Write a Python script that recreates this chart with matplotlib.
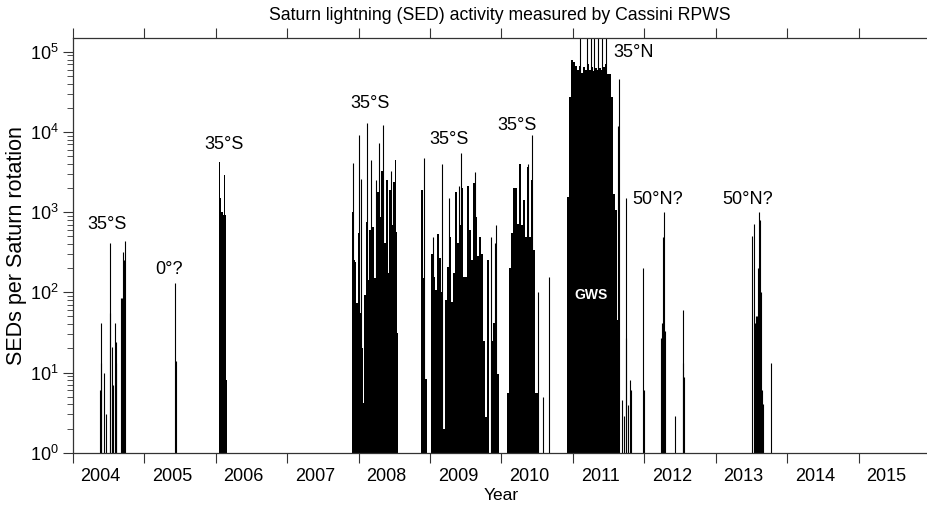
import numpy as np
import matplotlib
matplotlib.use("Agg")
import matplotlib.pyplot as plt
from matplotlib.ticker import FixedLocator, NullFormatter, LogLocator, FixedFormatter

plt.rcParams['font.family'] = ['Liberation Sans', 'DejaVu Sans']
plt.rcParams['mathtext.default'] = 'regular'

# ---------------- data ----------------
# dense storm episodes: start (year), column width (year), values per column
ep2006_start, ep2006_step = 2006.050, 0.014
ep2006_vals = [4200, 1500, 1000, 1000, 920, 2900, 920, 8]

ep2008_start, ep2008_step = 2007.905, 0.014
ep2008_vals = [1000, 28, 250, 240, 73, 73, 550, 55, 55, 60, 20, 4.2, 93, 93, 760, 760,
               142, 600, 600, 660, 660, 660, 150, 150, 1800, 1800, 1800, 880, 880, 3300,
               3300, 3300, 410, 410, 2500, 2500, 175, 1900, 1900, 690, 690, 2400, 2400,
               4500, 570, 31]

ep2009_start, ep2009_step = 2008.875, 0.028
ep2009_vals = [1900, 150, 8.4, 0, 0, 300, 157, 107, 540, 265, 100, 2, 80, 207, 490, 76,
               172, 1800, 410, 690, 2000, 157, 157, 2100, 600, 250, 2300, 870, 280, 490,
               300, 25, 2.8, 250, 0, 25, 41, 207, 9.7]

ep2010_start, ep2010_step = 2010.083, 0.028
ep2010_vals = [5.5, 200, 545, 2000, 2000, 720, 4000, 700, 1400, 490, 3700, 490, 2500,
               340, 5.5, 5.5]

gws_start, gws_step = 2010.914, 0.028
gws_vals = [1560, 27000, 80000, 75000, 66000, 60000, 66000, 55000, 65000, 60000, 70000,
            60000, 65000, 58000, 62000, 60000, 62000, 60000, 65000, 70000, 53000, 53000,
            27000, 1700, 1050, 45]

# individual spikes (year, SEDs per rotation)
spike_years = [2004.378, 2004.392, 2004.398, 2004.442, 2004.462, 2004.518, 2004.522,
               2004.546, 2004.568, 2004.588, 2004.600, 2004.606, 2004.676, 2004.690,
               2004.704, 2004.714, 2004.722, 2004.732,
               2005.432, 2005.446,
               2007.919, 2008.003, 2008.031, 2008.123, 2008.175, 2008.245, 2008.291,
               2008.347, 2008.451,
               2008.913, 2009.038, 2009.165, 2009.262, 2009.402, 2009.430, 2009.635,
               2009.859, 2009.915, 2009.924,
               2010.368, 2010.424, 2010.508, 2010.578, 2010.670,
               2011.100, 2011.202, 2011.250, 2011.300, 2011.356, 2011.404, 2011.464,
               2011.628, 2011.632, 2011.650, 2011.688, 2011.716, 2011.744, 2011.744,
               2011.772, 2011.793, 2011.810, 2011.986, 2011.996,
               2012.234, 2012.248, 2012.262, 2012.276, 2012.285, 2012.425, 2012.537,
               2012.545, 2012.560,
               2013.512, 2013.540, 2013.545, 2013.559, 2013.573, 2013.591, 2013.605,
               2013.619, 2013.633, 2013.647, 2013.665, 2013.777]
spike_vals = [6, 13, 41, 10, 3, 55, 415,
              21, 7, 42, 13, 24, 84, 84,
              320, 250, 84, 440,
              130, 14,
              4100, 9100, 2600, 12800, 4500, 2500, 7300,
              12200, 3300,
              4700, 490, 4000, 1500, 2100, 5500, 3200,
              490, 410, 690,
              4000, 9100, 100, 5, 156,
              160000, 160000, 160000, 160000, 160000, 160000, 160000,
              12000, 45, 46000, 4.6, 2.9, 1490, 27,
              3.9, 8, 6, 200, 6,
              27, 41, 490, 1000, 33, 2.9, 60,
              13, 8.8,
              500, 710, 41, 50, 50, 200, 1000,
              810, 100, 6, 4.1, 13]

# latitude annotations: (year, value, text)
lab_years = [2004.476, 2005.348, 2006.113, 2008.165, 2009.271, 2010.225, 2012.192, 2013.442]
lab_vals = [710, 195, 7060, 22900, 8100, 12200, 1456, 1456]
lab_texts = ['35°S', '0°?', '35°S', '35°S', '35°S', '35°S', '50°N?', '50°N?']
n35_year, n35_val, n35_text = 2011.856, 98500, '35°N'
gws_year, gws_val, gws_text = 2011.258, 92.5, 'GWS'

year_ticks = list(range(2004, 2017))
year_labels = [str(y) for y in range(2004, 2016)]

# ---------------- figure ----------------
W, H = 927, 505
fig = plt.figure(figsize=(W / 100, H / 100), dpi=100)
left = 72.7 / W
bottom = 1 - 452.7 / H
top = 1 - 37.7 / H
width = 12 * 71.45 / W
ax = fig.add_axes([left, bottom, width, top - bottom])

for start, step, vals in [(ep2006_start, ep2006_step, ep2006_vals),
                          (ep2008_start, ep2008_step, ep2008_vals),
                          (ep2009_start, ep2009_step, ep2009_vals),
                          (ep2010_start, ep2010_step, ep2010_vals),
                          (gws_start, gws_step, gws_vals)]:
    v = np.array(vals, dtype=float)
    x = start + step * np.arange(len(v))
    m = v > 0
    ax.bar(x[m], v[m] - 0.1, bottom=0.1, width=step, align='edge', color='black',
           linewidth=0)

ax.vlines(spike_years, 0.1, spike_vals, colors='black', linewidth=0.8)

ax.set_yscale('log')
ax.set_ylim(1, 1.5e5)
ax.set_xlim(2004, 2016)

# ticks
ax.xaxis.set_major_locator(FixedLocator(year_ticks))
ax.xaxis.set_major_formatter(NullFormatter())
ax.xaxis.set_minor_locator(FixedLocator([y + 0.39 for y in range(2004, 2016)]))
ax.xaxis.set_minor_formatter(FixedFormatter(year_labels))
ax.tick_params(axis='x', which='major', direction='out', length=7, width=0.8,
               top=True, bottom=True, color='#333333')
ax.tick_params(axis='x', which='minor', length=0, labelsize=13, pad=11)
ax.yaxis.set_major_locator(LogLocator(base=10, numticks=10))
ax.yaxis.set_minor_locator(LogLocator(base=10, subs=np.arange(2, 10), numticks=20))
ax.tick_params(axis='y', which='major', direction='out', length=7, width=0.8,
               labelsize=13, pad=3, color='#333333')
ax.tick_params(axis='y', which='minor', direction='out', length=4, width=0.6,
               color='#333333')

for s in ['left', 'bottom', 'top']:
    ax.spines[s].set_linewidth(0.9)
    ax.spines[s].set_color('#333333')
ax.spines['right'].set_visible(False)

ax.set_xlabel('Year', fontsize=12.5, labelpad=2)
ax.set_ylabel('SEDs per Saturn rotation', fontsize=15.5, labelpad=2)
fig.text((72.7 + 927) / 2 / W, 1 - 15 / H, 'Saturn lightning (SED) activity measured by Cassini RPWS',
         ha='center', va='center', fontsize=12.7)

for xy, vy, t in zip(lab_years, lab_vals, lab_texts):
    ax.text(xy, vy, t, ha='center', va='center', fontsize=13)
ax.text(n35_year, n35_val, n35_text, ha='center', va='center', fontsize=13)
ax.text(gws_year, gws_val, gws_text, ha='center', va='center', fontsize=10,
        color='white', fontweight='bold')

fig.savefig('out.png', dpi=100)
